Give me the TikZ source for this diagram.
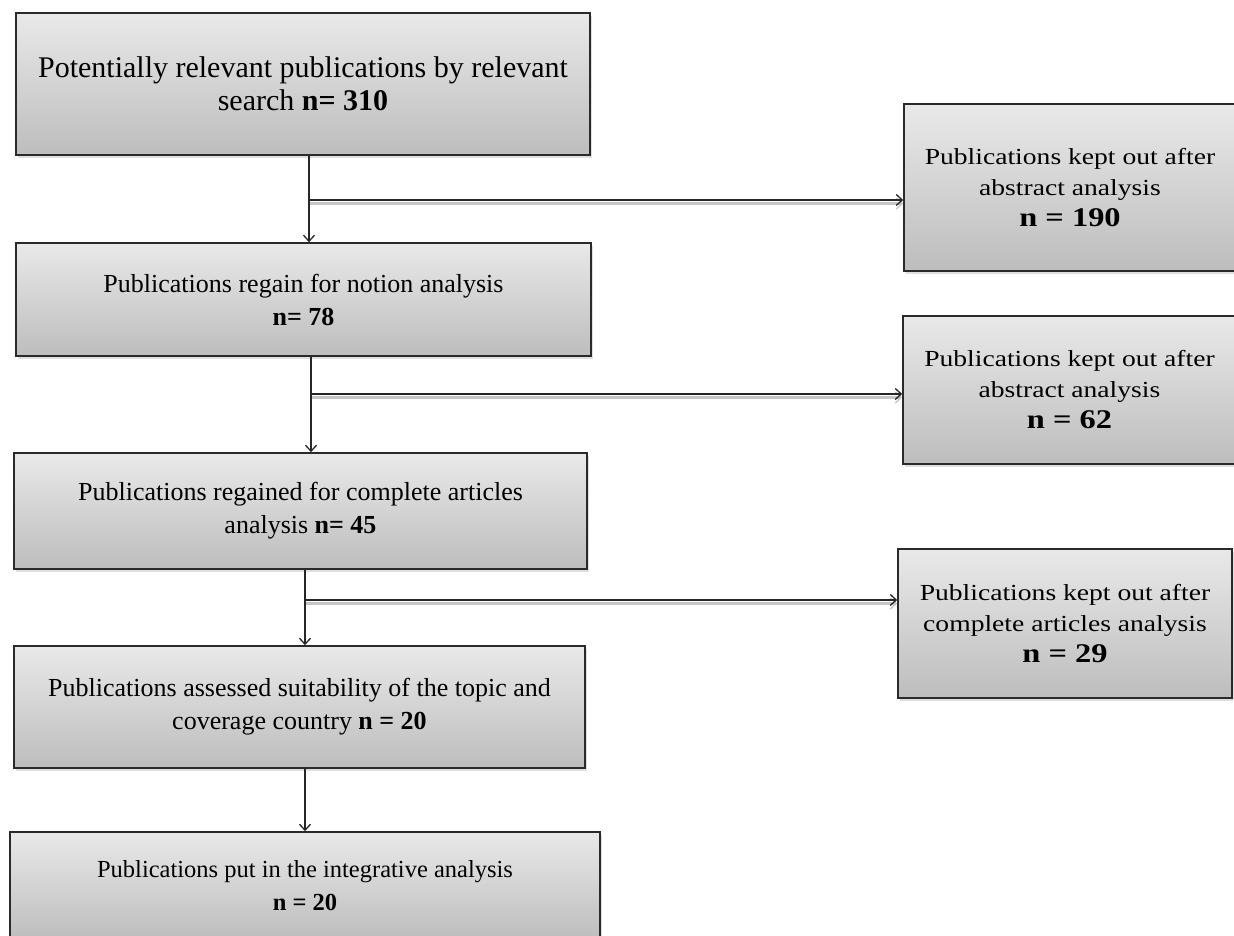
\documentclass[tikz,border=0pt]{standalone}
\usepackage{fontspec}
\setmainfont{Liberation Serif}
\newfontfamily\rfont[FakeStretch=1.2]{Liberation Serif}
\usetikzlibrary{arrows.meta,shadows}
\definecolor{boxtop}{HTML}{E9E9E9}
\definecolor{boxbot}{HTML}{BDBDBD}
\definecolor{edge}{HTML}{2A2A2A}
\tikzset{
  x=1pt,y=-1pt,
  box/.style={draw=edge, line width=1.6pt, top color=boxtop, bottom color=boxbot,
    drop shadow={opacity=0.25, shadow xshift=2pt, shadow yshift=-3pt},
    align=center, inner sep=0pt, text=black},
  lbox/.style={box, font=\fontsize{26}{33}\selectfont},
  rbox/.style={box, font=\rfont\fontsize{23}{31}\selectfont},
  tipstyle/.style={-{Straight Barb[length=6pt,width=11pt,line width=1.3pt]}},
  varr/.style={line width=1.4pt, draw=black!85, tipstyle},
  harr/.style={line width=1.4pt, draw=black!85, tipstyle,
    preaction={draw=gray!45, line width=2.6pt, transform canvas={yshift=-3.5pt}}}
}
\newcommand{\bign}[1]{{\fontsize{27}{31}\selectfont\textbf{#1}}}
\begin{document}
\begin{tikzpicture}
\useasboundingbox (0,0) rectangle (1234,936);
\clip (0,0) rectangle (1234,936);
% left column
\node[lbox, font=\fontsize{30}{33}\selectfont, minimum width=574pt, minimum height=142pt] (b1) at (303,84)
  {Potentially relevant publications by relevant\\search \textbf{n= 310}};
\node[lbox, minimum width=575pt, minimum height=113pt] (b2) at (303.5,299.5)
  {Publications regain for notion analysis\\\textbf{n= 78}};
\node[lbox, minimum width=573pt, minimum height=116pt] (b3) at (300.5,511)
  {Publications regained for complete articles\\analysis \textbf{n= 45}};
\node[lbox, minimum width=571pt, minimum height=122pt] (b4) at (299.5,707)
  {Publications assessed suitability of the topic and\\coverage country \textbf{n = 20}};
\node[lbox, font=\fontsize{24.5}{33}\selectfont, minimum width=590pt, minimum height=108pt] (b5) at (305,886)
  {Publications put in the integrative analysis\\\textbf{n = 20}};
% right column
\node[rbox, minimum width=332pt, minimum height=167pt] (r1) at (1070,187.5)
  {Publications kept out after\\abstract analysis\\\bign{n = 190}};
\node[rbox, minimum width=333pt, minimum height=148pt] (r2) at (1069.5,390)
  {Publications kept out after\\abstract analysis\\\bign{n = 62}};
\node[rbox, minimum width=334pt, minimum height=149pt] (r3) at (1065,623.5)
  {Publications kept out after\\complete articles analysis\\\bign{n = 29}};
% branch points
\coordinate (c1) at (309,200);
\coordinate (c2) at (311,394);
\coordinate (c3) at (305,600);
\coordinate (c4) at (305,800);
% connectors
\draw[harr] (c1) -- (c1 -| r1.west);
\draw[harr] (c2) -- (c2 -| r2.west);
\draw[harr] (c3) -- (c3 -| r3.west);
\draw[varr] (c1 |- b1.south) -- (c1 |- b2.north);
\draw[varr] (c2 |- b2.south) -- (c2 |- b3.north);
\draw[varr] (c3 |- b3.south) -- (c3 |- b4.north);
\draw[varr] (c4 |- b4.south) -- (c4 |- b5.north);
\end{tikzpicture}
\end{document}
